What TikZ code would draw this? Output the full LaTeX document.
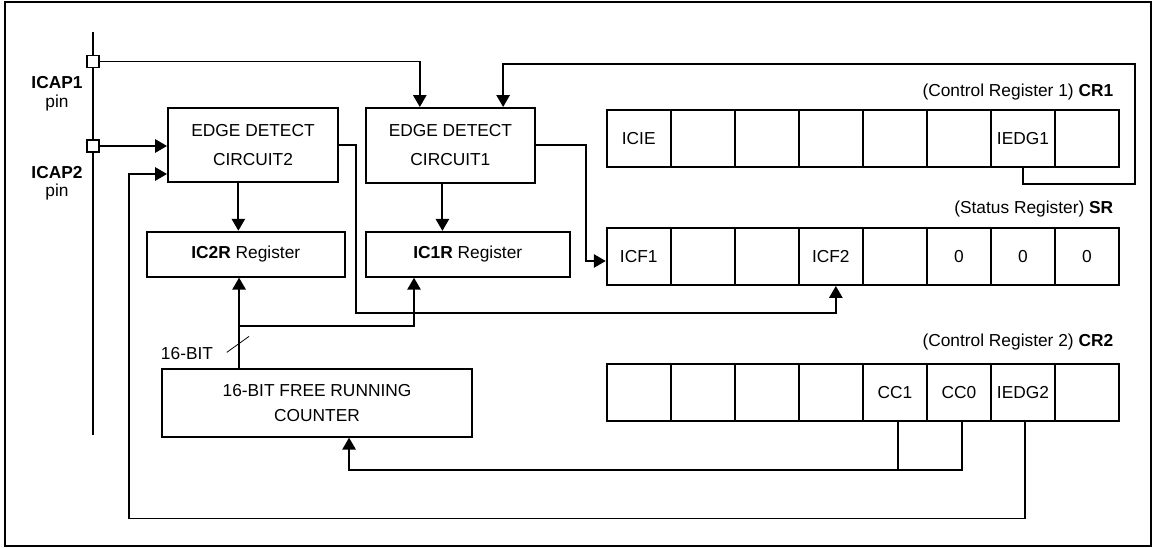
\documentclass[tikz,border=0pt]{standalone}
\usepackage{fontspec}
\setmainfont{Liberation Sans}
\usetikzlibrary{calc,arrows.meta}
\begin{document}
\begin{tikzpicture}[x=0.75pt,y=-0.75pt,
  font=\fontsize{13}{15.6}\selectfont,
  wire/.style={line width=1.4pt},
  arr/.style={line width=1.4pt,-{Triangle[length=9pt,width=10pt]}},
  box/.style={draw,line width=1.4pt,inner sep=0pt,align=center},
  sz/.style 2 args={minimum width={#1*0.75pt},minimum height={#2*0.75pt}},
  sq/.style={draw,fill=white,line width=1.2pt,inner sep=0pt,minimum size=9pt},
  twoline/.style={font=\fontsize{13}{21.75}\selectfont},
  cntline/.style={font=\fontsize{13}{18.75}\selectfont},
  bf/.style={font=\fontsize{13}{15.6}\selectfont\bfseries}]
\useasboundingbox (0,0) rectangle (1154,548);
\draw[line width=1.5pt] (5,2) rectangle (1151,546);

% pin line
\coordinate (ptop) at (93,32);
\coordinate (pbot) at (93,435);
\draw[wire] (ptop) -- (pbot);
\node[sq] (pin1) at (93,61.5) {};
\node[sq] (pin2) at (93,146) {};
\node[bf] (icap1) at (57,83) {ICAP1};
\node (pin1t) at (57,103) {pin};
\node[bf] (icap2) at (57,173) {ICAP2};
\node (pin2t) at (57,192) {pin};

% blocks
\node[box,twoline,sz={170}{74}] (ed2) at (253,145) {EDGE DETECT\\CIRCUIT2};
\node[box,twoline,sz={169.3}{74.7}] (ed1) at (450.4,145.3) {EDGE DETECT\\CIRCUIT1};
\node[box,sz={198.3}{45}] (ic2r) at (245.8,254.2) {\textbf{IC2R} Register};
\node[box,sz={204.3}{45}] (ic1r) at (467.8,254.3) {\textbf{IC1R} Register};
\node[box,cntline,sz={310}{67.4}] (cnt) at (317,403) {16-BIT FREE RUNNING\\COUNTER};

% registers
\foreach \t [count=\i] in {ICIE,{},{},{},{},{},IEDG1,{}}
  \node[box,sz={64.04}{56.7}] (cr1c\i) at ({638.72+64.04*(\i-1)},138.3) {\t};
\foreach \t [count=\i] in {ICF1,{},{},ICF2,{},0,0,0}
  \node[box,sz={64.04}{56.7}] (sr\i) at ({638.72+64.04*(\i-1)},256.7) {\t};
\foreach \t [count=\i] in {{},{},{},{},CC1,CC0,IEDG2,{}}
  \node[box,sz={64.04}{56.7}] (cr2c\i) at ({638.72+64.04*(\i-1)},392.3) {\t};
\node[anchor=east] (cr1t) at ($(cr1c8.north east)+(-2,-17)$) {(Control Register 1) \textbf{CR1}};
\node[anchor=east] (srt) at ($(sr8.north east)+(-2,-18.3)$) {(Status Register) \textbf{SR}};
\node[anchor=east] (cr2t) at ($(cr2c8.north east)+(-2,-21)$) {(Control Register 2) \textbf{CR2}};

% connectors
\draw[arr] (pin1.east) -| ($(ed1.north west)+(55,0)$);
\coordinate (loopNE) at (1135,64);
\draw[arr] (cr1c7.south) -- ++(0,16) -| (loopNE) -| ($(ed1.north west)+(138.3,0)$);
\draw[arr] (pin2.east) -- (pin2.east -| ed2.west);
\coordinate (fbSW) at (129.3,518.5);
\draw[arr] ($(cr2c7.south)+(2.3,0)$) |- (fbSW) |- ($(ed2.west)+(0,29)$);
\draw[wire] ($(cr2c5.south)+(3,0)$) -- ++(0,48.6);
\draw[arr] ($(cr2c6.south)+(3,0)$) -- ++(0,48.6) -| ($(cnt.south west)+(188,0)$);
\draw[arr] (ed2.east) -| ++(17,168.3) -| ($(sr4.south)+(5,0)$);
\draw[arr] (ed1.east) -- ++(50,0) |- ($(sr1.west)+(0,4.3)$);
\draw[arr] ($(ed2.south west)+(71.3,0)$) coordinate (a2) -- (a2 |- ic2r.north);
\draw[arr] ($(ed1.south west)+(77.6,0)$) coordinate (a1) -- (a1 |- ic1r.north);
\coordinate (cu) at ($(cnt.north west)+(78,0)$);
\draw[arr] (cu) -- (cu |- ic2r.south);
\draw[arr] ($(cu)+(0,-42.6)$) -| ($(ic1r.south west)+(49.3,0)$);
\draw[line width=0.6pt] ($(cu)+(-12.3,-16)$) -- ++(22.3,-16);
\node (bits) at (187,354) {16-BIT};
\end{tikzpicture}
\end{document}
